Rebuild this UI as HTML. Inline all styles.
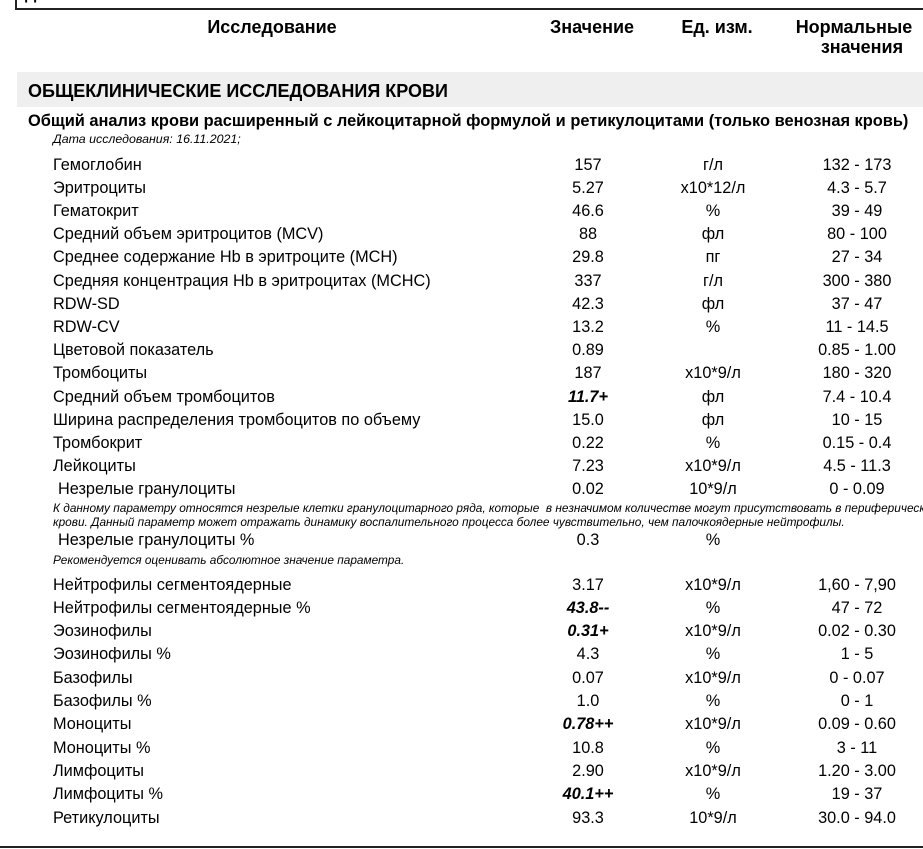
<!DOCTYPE html>
<html><head><meta charset="utf-8">
<style>
html,body{margin:0;padding:0;background:#fff;}
body{width:923px;height:849px;position:relative;overflow:hidden;font-family:"Liberation Sans",Arial,sans-serif;color:#000;}
.a{position:absolute;white-space:nowrap;}
.r{position:absolute;left:0;width:923px;height:20px;line-height:20px;font-size:16.3px;white-space:nowrap;}
.r span{position:absolute;top:0;}
.n{left:53px;}
.n2{left:58px;}
.v{left:538px;width:100px;text-align:center;}
.u{left:653px;width:120px;text-align:center;}
.m{left:797px;width:120px;text-align:center;}
.bi{font-weight:bold;font-style:italic;}
.h{font-size:18px;font-weight:bold;line-height:22px;}
.it{font-style:italic;font-size:12.4px;line-height:14px;}
.nt{font-style:italic;font-size:11.85px;line-height:14px;}
.clip{position:absolute;left:0;top:0;width:923px;height:849px;overflow:hidden;}
</style></head><body>
<div class="clip">
<div class="a" style="left:15px;top:-40px;width:908px;height:50px;border-left:2px solid #222;border-bottom:2px solid #222;box-sizing:border-box;"></div>
<div class="a" style="left:25px;top:-14px;font-size:16px;font-weight:bold;line-height:18px;">Диагноз</div>

<div class="a h" style="left:172px;width:200px;text-align:center;top:16px;">Исследование</div>
<div class="a h" style="left:542px;width:100px;text-align:center;top:16px;">Значение</div>
<div class="a h" style="left:657px;width:120px;text-align:center;top:16px;">Ед. изм.</div>
<div class="a h" style="left:794px;width:120px;text-align:center;top:16px;">Нормальные</div>
<div class="a h" style="left:802px;width:120px;text-align:center;top:36px;">значения</div>

<div class="a" style="left:17px;top:72px;width:906px;height:35px;background:#efefef;"></div>
<div class="a h" style="left:28px;top:79.5px;">ОБЩЕКЛИНИЧЕСКИЕ ИССЛЕДОВАНИЯ КРОВИ</div>
<div class="a" style="left:28px;top:110.5px;font-size:16.4px;font-weight:bold;line-height:20px;">Общий анализ крови расширенный с лейкоцитарной формулой и ретикулоцитами (только венозная кровь)</div>
<div class="a it" style="left:53px;top:132px;">Дата исследования: 16.11.2021;</div>

<div class="r" style="top:154.5px"><span class="n">Гемоглобин</span><span class="v">157</span><span class="u">г/л</span><span class="m">132 - 173</span></div>
<div class="r" style="top:177.7px"><span class="n">Эритроциты</span><span class="v">5.27</span><span class="u">x10*12/л</span><span class="m">4.3 - 5.7</span></div>
<div class="r" style="top:200.9px"><span class="n">Гематокрит</span><span class="v">46.6</span><span class="u">%</span><span class="m">39 - 49</span></div>
<div class="r" style="top:224.1px"><span class="n">Средний объем эритроцитов (MCV)</span><span class="v">88</span><span class="u">фл</span><span class="m">80 - 100</span></div>
<div class="r" style="top:247.3px"><span class="n">Среднее содержание Hb в эритроците (MCH)</span><span class="v">29.8</span><span class="u">пг</span><span class="m">27 - 34</span></div>
<div class="r" style="top:270.5px"><span class="n">Средняя концентрация Hb в эритроцитах (MCHC)</span><span class="v">337</span><span class="u">г/л</span><span class="m">300 - 380</span></div>
<div class="r" style="top:293.7px"><span class="n">RDW-SD</span><span class="v">42.3</span><span class="u">фл</span><span class="m">37 - 47</span></div>
<div class="r" style="top:316.9px"><span class="n">RDW-CV</span><span class="v">13.2</span><span class="u">%</span><span class="m">11 - 14.5</span></div>
<div class="r" style="top:340.1px"><span class="n">Цветовой показатель</span><span class="v">0.89</span><span class="u"></span><span class="m">0.85 - 1.00</span></div>
<div class="r" style="top:363.3px"><span class="n">Тромбоциты</span><span class="v">187</span><span class="u">x10*9/л</span><span class="m">180 - 320</span></div>
<div class="r" style="top:386.5px"><span class="n">Средний объем тромбоцитов</span><span class="v bi">11.7+</span><span class="u">фл</span><span class="m">7.4 - 10.4</span></div>
<div class="r" style="top:409.7px"><span class="n">Ширина распределения тромбоцитов по объему</span><span class="v">15.0</span><span class="u">фл</span><span class="m">10 - 15</span></div>
<div class="r" style="top:432.9px"><span class="n">Тромбокрит</span><span class="v">0.22</span><span class="u">%</span><span class="m">0.15 - 0.4</span></div>
<div class="r" style="top:456.1px"><span class="n">Лейкоциты</span><span class="v">7.23</span><span class="u">x10*9/л</span><span class="m">4.5 - 11.3</span></div>
<div class="r" style="top:479.3px"><span class="n2">Незрелые гранулоциты</span><span class="v">0.02</span><span class="u">10*9/л</span><span class="m">0 - 0.09</span></div>
<div class="a nt" style="left:53px;top:501px;">К данному параметру относятся незрелые клетки гранулоцитарного ряда, которые &nbsp;в незначимом количестве могут присутствовать в периферической</div>
<div class="a nt" style="left:53px;top:515px;">крови. Данный параметр может отражать динамику воспалительного процесса более чувствительно, чем палочкоядерные нейтрофилы.</div>
<div class="r" style="top:529.5px"><span class="n2">Незрелые гранулоциты %</span><span class="v">0.3</span><span class="u">%</span><span class="m"></span></div>
<div class="a nt" style="left:53px;top:553px;">Рекомендуется оценивать абсолютное значение параметра.</div>

<div class="r" style="top:574.5px"><span class="n">Нейтрофилы сегментоядерные</span><span class="v">3.17</span><span class="u">x10*9/л</span><span class="m">1,60 - 7,90</span></div>
<div class="r" style="top:597.8px"><span class="n">Нейтрофилы сегментоядерные %</span><span class="v bi">43.8--</span><span class="u">%</span><span class="m">47 - 72</span></div>
<div class="r" style="top:621.1px"><span class="n">Эозинофилы</span><span class="v bi">0.31+</span><span class="u">x10*9/л</span><span class="m">0.02 - 0.30</span></div>
<div class="r" style="top:644.4px"><span class="n">Эозинофилы %</span><span class="v">4.3</span><span class="u">%</span><span class="m">1 - 5</span></div>
<div class="r" style="top:667.7px"><span class="n">Базофилы</span><span class="v">0.07</span><span class="u">x10*9/л</span><span class="m">0 - 0.07</span></div>
<div class="r" style="top:691px"><span class="n">Базофилы %</span><span class="v">1.0</span><span class="u">%</span><span class="m">0 - 1</span></div>
<div class="r" style="top:714.3px"><span class="n">Моноциты</span><span class="v bi">0.78++</span><span class="u">x10*9/л</span><span class="m">0.09 - 0.60</span></div>
<div class="r" style="top:737.6px"><span class="n">Моноциты %</span><span class="v">10.8</span><span class="u">%</span><span class="m">3 - 11</span></div>
<div class="r" style="top:760.9px"><span class="n">Лимфоциты</span><span class="v">2.90</span><span class="u">x10*9/л</span><span class="m">1.20 - 3.00</span></div>
<div class="r" style="top:784.2px"><span class="n">Лимфоциты %</span><span class="v bi">40.1++</span><span class="u">%</span><span class="m">19 - 37</span></div>
<div class="r" style="top:807.5px"><span class="n">Ретикулоциты</span><span class="v">93.3</span><span class="u">10*9/л</span><span class="m">30.0 - 94.0</span></div>

<div class="a" style="left:0;top:846px;width:923px;height:2px;background:#222;"></div>
</div>
</body></html>
